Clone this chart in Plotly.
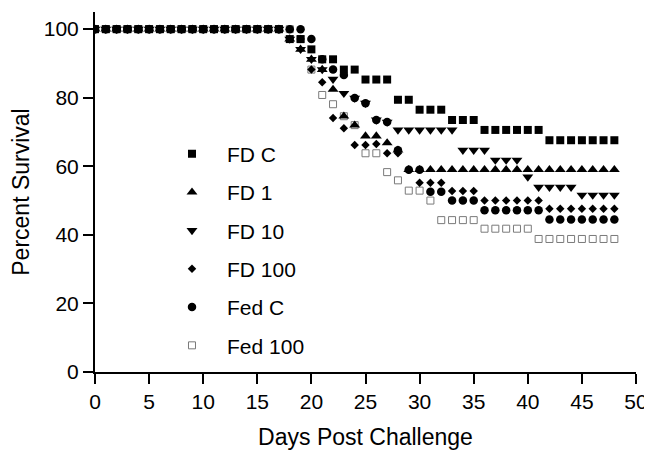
import plotly.graph_objects as go

days = list(range(49))
base = [100] * 18

fd_c = base + [97.1, 97.1, 94.1, 91.2, 91.2, 88.2, 88.2, 85.3, 85.3, 85.3, 79.4, 79.4,
               76.5, 76.5, 76.5, 73.5, 73.5, 73.5] + [70.6] * 6 + [67.6] * 7
fd_1 = base + [97.1, 94.1, 91.2, 88.2, 82.4, 74.6, 72.0, 68.8, 68.8, 66.8, 64.7] + [59.0] * 20
fd_10 = base + [97.1, 94.1, 91.2, 88.2, 85.4, 81.3, 79.9, 78.4, 73.5, 72.9] + [70.6] * 6 \
        + [64.7] * 3 + [61.8] * 3 + [56.9] + [53.9] * 4 + [51.6] * 4
fd_100 = base + [100, 97.1, 88.2, 84.5, 74.1, 71.1, 66.2, 66.2, 66.5, 63.8, 63.8, 59.0] \
         + [55.2] * 3 + [52.8] * 3 + [50.0] * 6 + [47.6] * 7
fed_c = base + [100, 100, 97.1, 91.2, 88.2, 86.6, 79.9, 78.4, 73.5, 72.9, 64.7, 59.0, 59.0,
                52.6, 52.6] + [50.0] * 3 + [47.2] * 6 + [44.5] * 7
fed_100 = base + [100, 97.1, 88.2, 80.8, 78.1, 74.6, 72.0, 63.8, 63.8, 58.3, 55.9, 52.9, 52.9,
                  50.0] + [44.3] * 4 + [41.8] * 5 + [38.8] * 8

x_ticks = [0, 5, 10, 15, 20, 25, 30, 35, 40, 45, 50]
y_ticks = [0, 20, 40, 60, 80, 100]

series = [
    # name, values, symbol, size, legend rank
    ("Fed 100", fed_100, "square-open", 7, 6),
    ("FD 1", fd_1, "triangle-up", 9.5, 2),
    ("FD 10", fd_10, "triangle-down", 9.5, 3),
    ("FD 100", fd_100, "diamond", 6.5, 4),
    ("Fed C", fed_c, "circle", 8.5, 5),
    ("FD C", fd_c, "square", 8, 1),
]

fig = go.Figure()
for name, vals, sym, size, rank in series:
    if sym == "square-open":
        marker = dict(symbol=sym, size=size, color="#7a7a7a", line=dict(width=1, color="#7a7a7a"))
    else:
        marker = dict(symbol=sym, size=size, color="black", line=dict(width=0))
    fig.add_trace(go.Scatter(
        x=days, y=vals, mode="markers", name=name, marker=marker,
        legendrank=rank, legendgroup=name,
    ))

font_family = "Liberation Sans, Arial, sans-serif"
# The page body adds an 8px margin, so the figure is sized to fit the 652x451 window.
fig.update_layout(
    width=644, height=443,
    margin=dict(l=87, r=16, t=4, b=79),
    paper_bgcolor="white", plot_bgcolor="white",
    font=dict(family=font_family, color="black", size=21),
    showlegend=True,
    legend=dict(
        x=0.1146, y=0.662, xanchor="left", yanchor="top",
        font=dict(size=21, family=font_family),
        bgcolor="rgba(0,0,0,0)", tracegroupgap=8, itemwidth=60,
    ),
    xaxis=dict(
        range=[0, 50], tickvals=x_ticks, showgrid=False, zeroline=False,
        showline=True, linecolor="black", linewidth=2, automargin=False,
        ticks="outside", ticklen=10, tickwidth=2, tickcolor="black",
        tickfont=dict(size=21),
        title=dict(text="Days Post Challenge", font=dict(size=23), standoff=17),
    ),
    yaxis=dict(
        range=[0, 105], tickvals=y_ticks, showgrid=False, zeroline=False,
        showline=True, linecolor="black", linewidth=2, automargin=False,
        ticks="outside", ticklen=10, tickwidth=2, tickcolor="black",
        tickfont=dict(size=21),
        title=dict(text="Percent Survival", font=dict(size=23), standoff=16),
    ),
)

fig.write_html("out.html")
